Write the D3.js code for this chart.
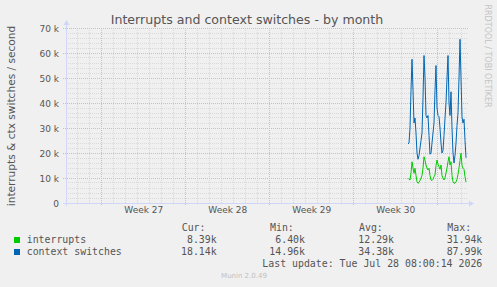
<!DOCTYPE html>
<html>
<head>
<meta charset="utf-8">
<script src="https://cdn.jsdelivr.net/npm/d3@7"></script>
<style>
  body { margin: 0; background: #f0f0f0; }
  svg { display: block; font-family: "DejaVu Sans", sans-serif; }
  .mono { font-family: "DejaVu Sans Mono", monospace; }
</style>
</head>
<body>
<svg id="chart" width="497" height="287"></svg>
<script>
// values in thousands per second, one point every 2 hours
const interrupts = [
  9.9, 9.5, 9.2, 12, 16.5, 14, 11.9, 13.9, 11, 8.5,
  7.9, 8.2, 9, 9.9, 11, 14, 18.5, 17, 15.2, 14,
  13.2, 13.9, 11, 9.2, 9, 9.5, 10.5, 11.2, 15, 17.2,
  15.5, 14.5, 13.5, 15.2, 11, 9.9, 9.2, 10, 12, 14,
  16.5, 18.5, 15.2, 16.5, 11, 8.5, 7.9, 8, 8.5, 9.5,
  11.5, 14, 17, 19.9, 15, 13.9, 13.5, 10.5, 8.4
];
const contextSwitches = [
  23.6, 24, 30, 45, 57.5, 45, 32, 34, 28, 20,
  17.5, 19, 22, 25, 28, 42, 59, 50, 35, 34,
  35, 27, 19.5, 20, 24, 28, 32, 45, 55, 38,
  35, 34.5, 30, 24, 20, 21, 27, 34, 40, 50,
  59, 40, 35, 44.5, 30, 20, 16, 19, 24, 31,
  36, 50, 65.5, 50, 34.5, 32, 33.5, 25, 18.1
];
const seriesNames = ["interrupts", "context switches"];
const seriesColors = ["#00cc00", "#0066b3"];
const statHeads = ["Cur:", "Min:", "Avg:", "Max:"];
const interruptStats = ["8.39k", "6.40k", "12.29k", "31.94k"];
const ctxStats = ["18.14k", "14.96k", "34.38k", "87.99k"];
const yTicks = [0, 10, 20, 30, 40, 50, 60, 70];

const viewStart = new Date(Date.UTC(2026, 5, 26, 1, 30));
const viewEnd = new Date(Date.UTC(2026, 6, 29, 9, 30));
const dataStart = new Date(Date.UTC(2026, 6, 24, 13, 30));
const step = 2 * 3600 * 1000;

const svg = d3.select('#chart');
const pLeft = 66, pRight = 466, pTop = 28, pBottom = 203;

const x = d3.scaleUtc().domain([viewStart, viewEnd]).range([pLeft, pRight]);
const y = d3.scaleLinear().domain([0, 70]).range([pBottom, pTop]);
const px = v => Math.floor(v) + 0.5;

// grid
const minorColor = '#d9d9d9', majorColor = '#e2b6b6';
const grid = svg.append('g').attr('shape-rendering', 'crispEdges');
d3.range(0, 71, 2).filter(v => v % 10 !== 0).forEach(v => {
  grid.append('line')
    .attr('x1', pLeft).attr('x2', pRight + 2)
    .attr('y1', px(y(v))).attr('y2', px(y(v)))
    .attr('stroke', minorColor).attr('stroke-dasharray', '1,1');
});
d3.utcDay.range(viewStart, viewEnd).filter(d => d.getUTCDay() !== 1).forEach(d => {
  grid.append('line')
    .attr('x1', px(x(d))).attr('x2', px(x(d)))
    .attr('y1', pTop).attr('y2', pBottom)
    .attr('stroke', minorColor).attr('stroke-dasharray', '1,1');
});
yTicks.filter(v => v > 0).forEach(v => {
  grid.append('line')
    .attr('x1', pLeft - 3).attr('x2', pRight + 2)
    .attr('y1', px(y(v))).attr('y2', px(y(v)))
    .attr('stroke', majorColor).attr('stroke-dasharray', '1,1');
});
d3.utcMonday.range(viewStart, viewEnd).forEach(d => {
  grid.append('line')
    .attr('x1', px(x(d))).attr('x2', px(x(d)))
    .attr('y1', pTop).attr('y2', pBottom + 3)
    .attr('stroke', majorColor).attr('stroke-dasharray', '1,1');
});

// axes lines with arrows
const axisColor = '#cfd6f8';
grid.append('line').attr('x1', pLeft - 3).attr('x2', pRight + 4)
  .attr('y1', px(pBottom)).attr('y2', px(pBottom)).attr('stroke', axisColor);
grid.append('line').attr('x1', px(pLeft)).attr('x2', px(pLeft))
  .attr('y1', pBottom + 3).attr('y2', pTop - 4).attr('stroke', axisColor);
svg.append('path').attr('d', `M${pRight + 3},${pBottom - 2.5}L${pRight + 8},${pBottom + 0.5}L${pRight + 3},${pBottom + 3.5}Z`)
  .attr('fill', axisColor);
svg.append('path').attr('d', `M${pLeft - 2.5},${pTop - 3}L${pLeft + 0.5},${pTop - 8}L${pLeft + 3.5},${pTop - 3}Z`)
  .attr('fill', axisColor);

// tick labels
const yAxis = svg.append('g')
  .attr('transform', 'translate(' + pLeft + ',0)')
  .call(d3.axisLeft(y).tickValues(yTicks).tickSize(0).tickPadding(7)
    .tickFormat(v => v === 0 ? '0' : v + ' k'));
yAxis.select('.domain').remove();
yAxis.selectAll('text').attr('font-family', 'DejaVu Sans').attr('font-size', 9).attr('fill', '#555').attr('dy', '0.36em');

const weekMids = d3.utcMonday.range(d3.utcMonday.offset(viewStart, -1), viewEnd)
  .map(d => new Date(+d + 3.5 * 864e5))
  .filter(d => x(d) > pLeft + 20 && x(d) < pRight - 20);
const xAxis = svg.append('g')
  .attr('transform', 'translate(0,' + pBottom + ')')
  .call(d3.axisBottom(x).tickValues(weekMids).tickSize(0).tickPadding(4)
    .tickFormat(d => 'Week ' + (+d3.utcFormat('%V')(d))));
xAxis.select('.domain').remove();
xAxis.selectAll('text').attr('font-family', 'DejaVu Sans').attr('font-size', 9).attr('fill', '#555');

// series
const timeAt = i => new Date(+dataStart + i * step);
const line = d3.line().x((d, i) => x(timeAt(i))).y(d => y(d));
[interrupts, contextSwitches].forEach((s, k) => {
  svg.append('path').datum(s)
    .attr('d', line)
    .attr('fill', 'none')
    .attr('stroke', seriesColors[k])
    .attr('stroke-width', 1);
});

// titles
svg.append('text').attr('x', 247).attr('y', 23.5)
  .attr('text-anchor', 'middle').attr('font-size', 12.6).attr('fill', '#555')
  .text('Interrupts and context switches - by month');
svg.append('text').attr('transform', 'translate(15,116) rotate(-90)')
  .attr('text-anchor', 'middle').attr('font-size', 10.6).attr('fill', '#555')
  .text('interrupts & ctx switches / second');
svg.append('text').attr('transform', 'translate(485,56) rotate(90)')
  .attr('text-anchor', 'middle').attr('font-size', 8).attr('fill', '#c4c4c4')
  .text('RRDTOOL / TOBI OETIKER');

// legend
const colRight = [216.7, 305, 394, 482.3];
const leg = svg.append('g').attr('class', 'mono').attr('font-size', 9.9).attr('fill', '#555');
statHeads.forEach((h, i) => {
  leg.append('text').attr('x', colRight[i] - 35).attr('y', 231).text(h);
});
[interruptStats, ctxStats].forEach((row, k) => {
  const by = 243 + k * 12;
  svg.append('rect').attr('x', 14).attr('y', by - 6).attr('width', 6).attr('height', 6)
    .attr('fill', seriesColors[k]);
  leg.append('text').attr('x', 26.7).attr('y', by).text(seriesNames[k]);
  row.forEach((v, i) => {
    leg.append('text').attr('x', colRight[i]).attr('y', by).attr('text-anchor', 'end').text(v);
  });
});
leg.append('text').attr('x', 482.3).attr('y', 267).attr('text-anchor', 'end')
  .text('Last update: Tue Jul 28 08:00:14 2026');

svg.append('text').attr('x', 244).attr('y', 278)
  .attr('text-anchor', 'middle').attr('font-size', 7).attr('fill', '#c0c0c0')
  .text('Munin 2.0.49');
</script>
</body>
</html>
